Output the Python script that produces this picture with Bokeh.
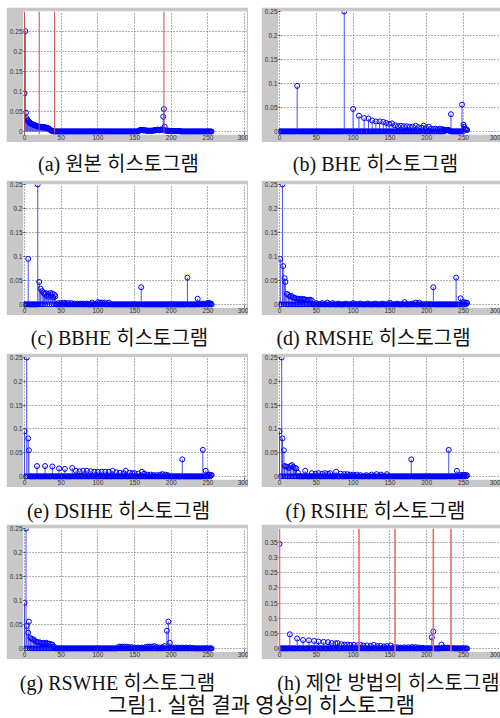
from bokeh.plotting import figure
from bokeh.models import Range1d, Span, FixedTicker, NumeralTickFormatter
from bokeh.layouts import column, row
from bokeh.embed import file_html
from bokeh.resources import INLINE
from bokeh.core.properties import value

# ---------------- data ----------------
NBINS = 256
XTICKS = [0, 50, 100, 150, 200, 250, 300]
YTICKS_25 = [0, 0.05, 0.1, 0.15, 0.2, 0.25]
YTICKS_35 = [0, 0.05, 0.1, 0.15, 0.2, 0.25, 0.3, 0.35]

CAPTIONS = ["(a) 원본 히스토그램", "(b) BHE 히스토그램", "(c) BBHE 히스토그램",
            "(d) RMSHE 히스토그램", "(e) DSIHE 히스토그램", "(f) RSIHE 히스토그램",
            "(g) RSWHE 히스토그램", "(h) 제안 방법의 히스토그램"]
FIG_CAPTION = "그림1. 실험 결과 영상의 히스토그램"

# (a) original histogram
A_POS = list(range(0, 39)) + list(range(156, 213))
A_VAL = [0.095, 0.25, 0.047, 0.033, 0.028, 0.027, 0.024, 0.022, 0.021, 0.020,
         0.019, 0.018, 0.017, 0.016, 0.016, 0.015, 0.014, 0.013, 0.013, 0.012,
         0.012, 0.012, 0.011, 0.012, 0.011, 0.011, 0.010, 0.010, 0.011, 0.010,
         0.009, 0.008, 0.009, 0.007, 0.006, 0.004, 0.003, 0.002, 0.001,
         0.002, 0.003, 0.004, 0.004, 0.004, 0.003, 0.003, 0.003, 0.003, 0.003,
         0.002, 0.002, 0.002, 0.002, 0.002, 0.002, 0.002, 0.002, 0.002, 0.002,
         0.003, 0.003, 0.003, 0.003, 0.004, 0.004, 0.005, 0.004, 0.003, 0.004,
         0.005, 0.004, 0.005, 0.037, 0.056, 0.012, 0.003, 0.002, 0.002, 0.002,
         0.002, 0.002, 0.001, 0.001, 0.001, 0.001, 0.001, 0.001, 0.001, 0.001,
         0.001, 0.001, 0.001, 0.001, 0.001, 0.001, 0.001]
A_RED = [0, 20, 41, 190]

# (b) BHE
B_POS = [24, 88, 100, 108, 115, 121, 126, 131, 136, 141, 145, 149, 153, 157, 161, 165,
         169, 173, 177, 181, 185, 189, 193, 196, 199, 203, 206, 209, 212, 215, 218, 221,
         223, 225, 226, 227, 228, 229, 230, 231, 233, 248, 250, 251, 252, 253, 254, 255]
B_VAL = [0.095, 0.25, 0.047, 0.033, 0.028, 0.027, 0.023, 0.021, 0.021, 0.020, 0.018, 0.016,
         0.017, 0.013, 0.011, 0.012, 0.011, 0.011, 0.010, 0.010, 0.012, 0.009, 0.008, 0.012,
         0.007, 0.010, 0.006, 0.005, 0.006, 0.004, 0.006, 0.005, 0.004, 0.003, 0.003, 0.003,
         0.003, 0.003, 0.003, 0.002, 0.036, 0.056, 0.014, 0.010, 0.006, 0.005, 0.004, 0.003]

# (c) BBHE
C_POS = [5, 18, 20, 22, 24, 26, 27, 29, 30, 32, 33, 35, 36, 38, 39, 41, 42, 46, 50, 53,
         56, 60, 64, 68, 72, 76, 80, 85, 92, 100, 103, 106, 109, 115, 159, 222, 236, 240,
         244, 248, 250, 252, 254]
C_VAL = [0.095, 0.25, 0.047, 0.033, 0.028, 0.025, 0.022, 0.024, 0.018, 0.022, 0.016, 0.024,
         0.019, 0.023, 0.015, 0.020, 0.017, 0.003, 0.003, 0.004, 0.003, 0.003, 0.003, 0.002,
         0.002, 0.002, 0.002, 0.002, 0.004, 0.005, 0.004, 0.004, 0.004, 0.004, 0.036, 0.056,
         0.012, 0.002, 0.002, 0.002, 0.003, 0.003, 0.002]

# (d) RMSHE
D_POS = [1, 4, 5, 7, 8, 10, 12, 14, 16, 18, 20, 22, 24, 26, 28, 30, 32, 34, 36, 38, 40, 42,
         44, 50, 58, 65, 72, 80, 90, 100, 110, 120, 130, 140, 150, 160, 170, 180, 185, 190,
         209, 240, 246, 250, 252, 254, 255]
D_VAL = [0.095, 0.25, 0.08, 0.055, 0.047, 0.022, 0.02, 0.017, 0.018, 0.015, 0.014, 0.013,
         0.012, 0.012, 0.011, 0.012, 0.011, 0.011, 0.010, 0.009, 0.010, 0.010, 0.008, 0.003,
         0.003, 0.004, 0.003, 0.002, 0.002, 0.003, 0.002, 0.002, 0.002, 0.002, 0.004, 0.002,
         0.005, 0.002, 0.004, 0.004, 0.036, 0.056, 0.013, 0.005, 0.004, 0.004, 0.003]

# (e) DSIHE
E_POS = [0, 3, 5, 6, 17, 28, 38, 47, 55, 65, 70, 75, 80, 85, 90, 95, 100, 105, 110, 115,
         120, 125, 130, 135, 138, 143, 147, 150, 155, 160, 163, 167, 172, 176, 180, 185, 188,
         192, 195, 215, 243, 247, 250, 252, 254, 255]
E_VAL = [0.095, 0.25, 0.08, 0.055, 0.022, 0.022, 0.021, 0.017, 0.016, 0.018, 0.012, 0.011,
         0.012, 0.012, 0.011, 0.010, 0.010, 0.010, 0.010, 0.010, 0.012, 0.009, 0.008, 0.007,
         0.012, 0.008, 0.007, 0.007, 0.006, 0.010, 0.006, 0.004, 0.004, 0.003, 0.003, 0.004,
         0.005, 0.004, 0.003, 0.036, 0.056, 0.012, 0.004, 0.004, 0.003, 0.003]

# (f) RSIHE
F_POS = [0, 3, 4, 6, 7, 9, 11, 13, 15, 17, 19, 21, 23, 25, 35, 44, 49, 53, 58, 62, 66, 69,
         77, 83, 88, 92, 96, 100, 105, 110, 118, 125, 132, 138, 146, 179, 230, 241, 245, 248,
         250, 252, 254, 255]
F_VAL = [0.095, 0.25, 0.08, 0.055, 0.022, 0.021, 0.020, 0.018, 0.022, 0.024, 0.020, 0.018,
         0.017, 0.008, 0.012, 0.007, 0.006, 0.007, 0.006, 0.007, 0.006, 0.007, 0.010, 0.006,
         0.005, 0.005, 0.004, 0.004, 0.004, 0.003, 0.003, 0.004, 0.005, 0.004, 0.005, 0.036,
         0.056, 0.012, 0.003, 0.003, 0.004, 0.003, 0.003, 0.002]

# (g) RSWHE
G_POS = [0, 2, 3, 5, 6, 8, 10, 12, 14, 16, 18, 20, 22, 24, 26, 28, 30, 32, 34, 36, 38, 40,
         128, 130, 133, 136, 139, 142, 146, 150, 155, 160, 165, 168, 171, 174, 177, 180, 184,
         188, 191, 194, 196, 198, 202, 206, 210, 215, 220, 225, 230]
G_VAL = [0.095, 0.25, 0.047, 0.033, 0.056, 0.022, 0.020, 0.019, 0.016, 0.014, 0.013, 0.013,
         0.012, 0.011, 0.012, 0.011, 0.012, 0.010, 0.010, 0.009, 0.008, 0.004, 0.003, 0.004,
         0.004, 0.004, 0.004, 0.003, 0.003, 0.002, 0.002, 0.002, 0.003, 0.004, 0.004, 0.004,
         0.005, 0.003, 0.002, 0.003, 0.005, 0.037, 0.056, 0.012, 0.002, 0.002, 0.002, 0.002,
         0.002, 0.002, 0.001]

# (h) proposed method
H_POS = [0, 14, 24, 32, 40, 47, 53, 60, 66, 71, 76, 79, 84, 88, 92, 96, 101, 106, 110, 114,
         119, 124, 128, 133, 137, 142, 146, 151, 156, 160, 165, 170, 175, 180, 185, 190, 195,
         207, 209, 220, 222, 224, 226, 228, 230, 232, 235]
H_VAL = [0.345, 0.047, 0.033, 0.028, 0.027, 0.025, 0.023, 0.022, 0.021, 0.018, 0.017, 0.018,
         0.014, 0.013, 0.013, 0.012, 0.012, 0.011, 0.012, 0.010, 0.010, 0.009, 0.012, 0.008,
         0.009, 0.007, 0.008, 0.010, 0.005, 0.004, 0.003, 0.004, 0.004, 0.005, 0.005, 0.003,
         0.002, 0.037, 0.056, 0.013, 0.003, 0.003, 0.002, 0.003, 0.002, 0.002, 0.001]
H_RED = [0, 108, 157, 209, 233]

# ---------------- style ----------------
GREY = "#c8c8c8"
STEM = "#4c4cf0"
MARK = "#0000ff"
CAP_FONT = "'Liberation Serif', 'Noto Sans CJK KR'"
TOP, BOT = 4, 7


def panel(pos, val, ymax, yticks, left, height, reds=None, red_color="#c85050", red_width=1.0):
    bins = list(range(NBINS))
    hist = [0.0] * NBINS
    for b, v in zip(pos, val):
        hist[b] = v
    frame_h = height - TOP - BOT
    ybot = -3.0 * ymax / (frame_h - 3)
    if left:
        xr = Range1d(-1.4, 302.5)
        w, mbl, mbr = 242, 16, 2
    else:
        xr = Range1d(-1.36, 300.3)
        w, mbl, mbr = 239, 17, 0
    p = figure(width=w, height=height, x_range=xr, y_range=Range1d(ybot, ymax),
               toolbar_location=None, output_backend="svg",
               min_border_left=mbl, min_border_right=mbr,
               min_border_top=TOP, min_border_bottom=BOT)
    p.background_fill_color = "white"
    p.border_fill_color = GREY
    p.outline_line_color = None
    p.xaxis.ticker = FixedTicker(ticks=XTICKS)
    p.yaxis.ticker = FixedTicker(ticks=yticks)
    p.yaxis.formatter = NumeralTickFormatter(format="0.[00]")
    for ax in (p.xaxis[0], p.yaxis[0]):
        ax.axis_line_color = None
        ax.major_tick_in = 2
        ax.major_tick_out = 0
        ax.major_tick_line_color = "#444444"
        ax.minor_tick_line_color = None
        ax.major_label_text_font = "Liberation Sans"
        ax.major_label_text_font_size = "6.5px"
        ax.major_label_text_color = "#333333"
        ax.major_label_standoff = 1
    p.xaxis.major_label_standoff = 0
    p.grid.grid_line_color = "#606060"
    p.grid.grid_line_dash = "1 2"
    p.grid.grid_line_width = 1
    p.segment(x0=bins, y0=[0.0] * NBINS, x1=bins, y1=hist, line_color=STEM, line_width=1)
    p.scatter(x=bins, y=hist, marker="circle", size=5, fill_color=None,
              line_color=MARK, line_width=1)
    if reds:
        for loc in reds:
            p.add_layout(Span(location=loc, dimension="height", line_color=red_color,
                              line_width=red_width))
    return p


def caption(height, items):
    c = figure(width=494, height=height, x_range=Range1d(6, 500), y_range=Range1d(height, 0),
               toolbar_location=None, output_backend="svg", min_border=0,
               x_axis_type=None, y_axis_type=None)
    c.outline_line_color = None
    c.background_fill_color = "white"
    c.border_fill_color = "white"
    c.grid.visible = False
    for x, y, txt, size in items:
        c.text(x=[x], y=[y], text=[txt], text_align="center", text_baseline="middle",
               text_font=value(CAP_FONT), text_font_size=size, text_color="#111111")
    return c


fa = panel(A_POS, A_VAL, 0.299, YTICKS_25, True, 135, reds=A_RED, red_color="#c0504d")
fb = panel(B_POS, B_VAL, 0.25, YTICKS_25, False, 135)
fc = panel(C_POS, C_VAL, 0.25, YTICKS_25, True, 135)
fd = panel(D_POS, D_VAL, 0.25, YTICKS_25, False, 135)
fe = panel(E_POS, E_VAL, 0.25, YTICKS_25, True, 134)
ff = panel(F_POS, F_VAL, 0.25, YTICKS_25, False, 134)
fg = panel(G_POS, G_VAL, 0.25, YTICKS_25, True, 135)
fh = panel(H_POS, H_VAL, 0.396, YTICKS_35, False, 135, reds=H_RED, red_color="#e07070",
           red_width=1.6)

c1 = caption(38, [(118, 21, CAPTIONS[0], "20px"), (375, 21, CAPTIONS[1], "20px")])
c2 = caption(38, [(119, 22, CAPTIONS[2], "20px"), (373, 22, CAPTIONS[3], "20px")])
c3 = caption(37, [(118, 23, CAPTIONS[4], "20px"), (375, 23, CAPTIONS[5], "20px")])
c4 = caption(59, [(117, 23, CAPTIONS[6], "20px"), (388, 23, CAPTIONS[7], "20px"),
                  (261, 45, FIG_CAPTION, "21px")])

layout = column(
    row(fa, fb, spacing=13), c1,
    row(fc, fd, spacing=13), c2,
    row(fe, ff, spacing=13), c3,
    row(fg, fh, spacing=13), c4,
    spacing=0, margin=(7, 0, 0, 6),
)

open("out.html", "w").write(file_html(layout, INLINE))
